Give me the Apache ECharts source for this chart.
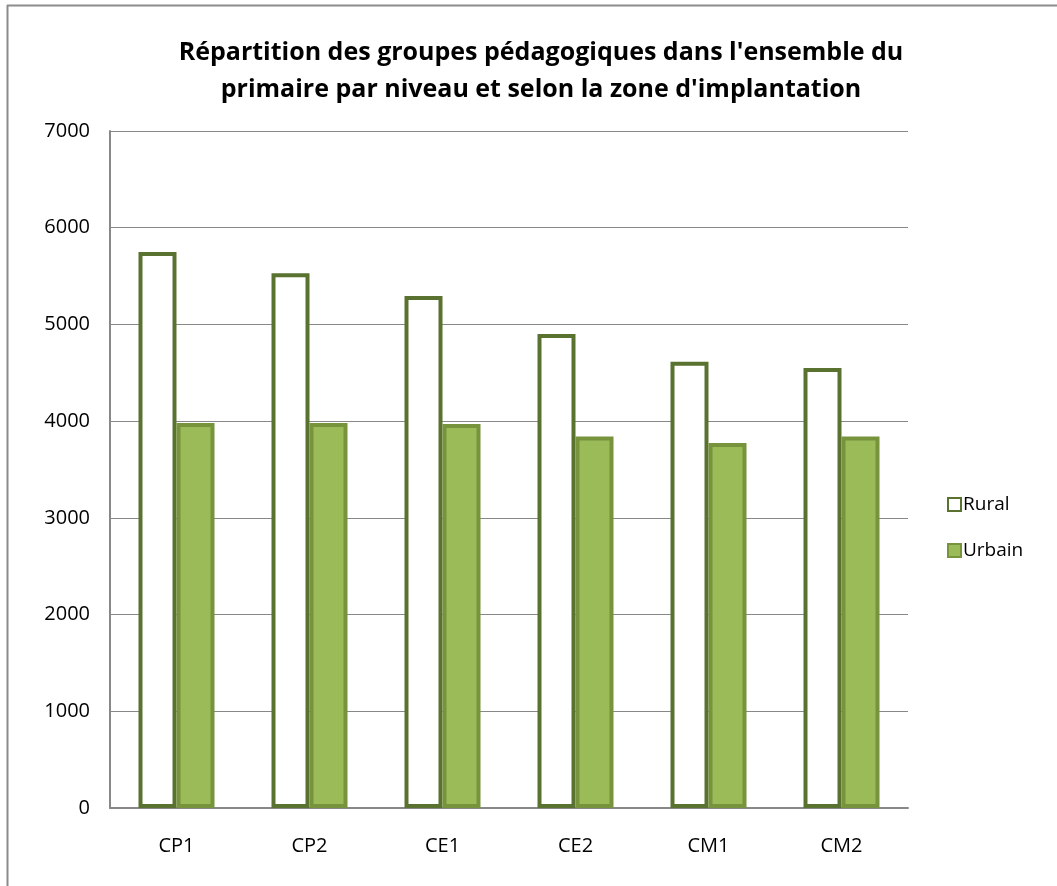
<!DOCTYPE html>
<html>
<head>
<meta charset="utf-8">
<title>Répartition des groupes pédagogiques</title>
<script src="https://cdn.jsdelivr.net/npm/echarts@6/dist/echarts.min.js"></script>
<style>
  html, body { margin: 0; padding: 0; background: #fff; }
  #chart { width: 1057px; height: 886px; }
</style>
</head>
<body>
<div id="chart"></div>
<script>
// niveaux
var categories = ['CP1', 'CP2', 'CE1', 'CE2', 'CM1', 'CM2'];
// valeurs
var rural = [5750, 5530, 5295, 4900, 4615, 4550];
var urbain = [3980, 3980, 3970, 3840, 3775, 3840];
var yTicks = [0, 1000, 2000, 3000, 4000, 5000, 6000, 7000];

var font = 'Open Sans';
var chart = echarts.init(document.getElementById('chart'));

var option = {
  backgroundColor: '#fff',
  animation: false,
  textStyle: { fontFamily: font },
  title: {
    text: "Répartition des groupes pédagogiques dans l'ensemble du\nprimaire par niveau et selon la zone d'implantation",
    left: 536,
    textAlign: 'center',
    top: 29,
    textStyle: {
      fontFamily: font,
      fontSize: 25,
      fontWeight: 'bold',
      color: '#000',
      lineHeight: 37
    }
  },
  legend: {
    orient: 'vertical',
    left: 942,
    top: 490,
    itemWidth: 13,
    itemHeight: 13,
    itemGap: 27,
    icon: 'rect',
    textStyle: { fontFamily: font, fontSize: 19, color: '#000', padding: [0, 0, 0, -3] },
    data: ['Rural', 'Urbain']
  },
  grid: {
    left: 110,
    right: 149,
    top: 131,
    bottom: 78
  },
  xAxis: {
    type: 'category',
    data: categories,
    axisLine: { show: true, lineStyle: { color: '#888', width: 2 } },
    axisTick: { show: false },
    axisLabel: { color: '#000', fontSize: 20, margin: 28, fontFamily: font },
    splitLine: { show: false }
  },
  yAxis: {
    type: 'value',
    min: yTicks[0],
    max: yTicks[yTicks.length - 1],
    interval: 1000,
    axisLine: { show: true, lineStyle: { color: '#888', width: 2 } },
    axisTick: { show: false },
    axisLabel: {
      color: '#000',
      fontSize: 20,
      margin: 20,
      fontFamily: font,
      formatter: function (v) { return String(v); }
    },
    splitLine: { show: true, lineStyle: { color: '#888', width: 1 } }
  },
  series: [
    {
      name: 'Rural',
      type: 'bar',
      data: rural,
      barWidth: 38,
      barGap: '0%',
      itemStyle: {
        color: '#fff',
        borderColor: '#5a7230',
        borderWidth: 4
      }
    },
    {
      name: 'Urbain',
      type: 'bar',
      data: urbain,
      barWidth: 38,
      itemStyle: {
        color: '#9bbb59',
        borderColor: '#77933c',
        borderWidth: 4
      }
    }
  ],
  graphic: [
    // cadre du graphique (haut et gauche)
    { type: 'line', shape: { x1: 7, y1: 5.5, x2: 1057, y2: 5.5 }, style: { stroke: '#8c8c8c', lineWidth: 2 } },
    { type: 'line', shape: { x1: 7.5, y1: 5, x2: 7.5, y2: 886 }, style: { stroke: '#8c8c8c', lineWidth: 2 } }
  ]
};

chart.setOption(option);
</script>
</body>
</html>
